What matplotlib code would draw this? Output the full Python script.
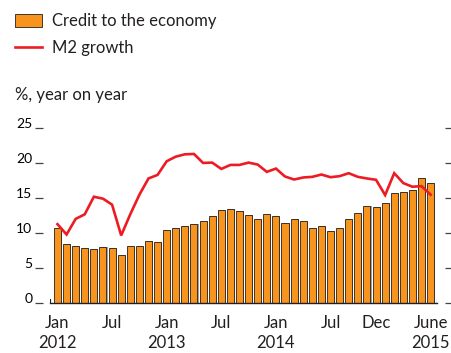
import numpy as np
import matplotlib
matplotlib.use("Agg")
import matplotlib.pyplot as plt
from matplotlib.patches import Patch
from matplotlib.lines import Line2D

plt.rcParams['font.family'] = ['Lato', 'DejaVu Sans']
plt.rcParams['ytick.alignment'] = 'baseline'

# monthly, Jan 2012 .. June 2015
credit = [10.75, 8.35, 8.16, 7.78, 7.74, 7.92, 7.88, 6.84, 8.11, 8.07, 8.87, 8.68,
          10.38, 10.66, 10.94, 11.32, 11.70, 12.36, 13.30, 13.44, 13.11, 12.50, 12.03, 12.64,
          12.36, 11.46, 11.93, 11.65, 10.66, 10.90, 10.28, 10.71, 11.93, 12.83, 13.87, 13.68,
          14.29, 15.61, 15.80, 16.13, 17.74, 17.03]
m2 = [11.23, 9.76, 11.98, 12.64, 15.14, 14.86, 14.01, 9.62, 12.64, 15.42, 17.74, 18.25,
      20.19, 20.85, 21.18, 21.23, 19.95, 20.00, 19.10, 19.67, 19.67, 20.00, 19.72, 18.68,
      19.15, 18.02, 17.59, 17.88, 17.97, 18.30, 17.92, 18.07, 18.49, 17.97, 17.74, 17.55,
      15.38, 18.49, 17.08, 16.56, 16.65, 15.42]
tick_pos = [0, 6, 12, 18, 24, 30, 35, 41]
tick_labels = ['Jan\n2012', 'Jul', 'Jan\n2013', 'Jul', 'Jan\n2014', 'Jul', 'Dec', 'June\n2015']
yticks = [0, 5, 10, 15, 20, 25]

orange = '#F7941D'
red = '#ED1C24'
dark = '#231F20'
fs = 12

x = np.arange(len(credit))

fig = plt.figure(figsize=(4.51, 3.53), dpi=100)
ax = fig.add_axes([50 / 451, 50 / 353, 387 / 451, 175.5 / 353])

# grey shadow on the right of each bar, then the bar itself
ax.bar(x + 0.12, credit, width=0.77, color='#A0A0A0', zorder=1)
ax.bar(x, credit, width=0.77, color=orange, edgecolor=dark, linewidth=0.6, zorder=2)
ax.plot(x, m2, color=red, linewidth=1.9, zorder=3, solid_joinstyle='miter')

ax.set_xlim(-0.82, 41.7)
ax.set_ylim(0, 25)

ax.set_xticks(tick_pos)
ax.set_xticklabels(tick_labels, fontsize=fs, color=dark, linespacing=1.25)
ax.tick_params(axis='x', length=0, pad=9)

ax.set_yticks(yticks)
ax.set_yticklabels([str(v) for v in yticks], fontsize=fs, color=dark)
ax.tick_params(axis='y', direction='out', length=5.8, width=0.9, color='#444444',
               pad=2.0, right=True, labelright=False)
ax.spines['left'].set_position(('outward', 5))
ax.spines['right'].set_position(('outward', 6))
for s in ['left', 'right', 'top']:
    ax.spines[s].set_visible(False)
ax.spines['bottom'].set_color(dark)
ax.spines['bottom'].set_linewidth(1.0)
ax.spines['bottom'].set_zorder(4)
ax.axvline(-0.82, ymax=0.02, color=dark, linewidth=0.8)
ax.axvline(41.7, ymax=0.02, color=dark, linewidth=0.8)

handles = [Patch(facecolor=orange, edgecolor=dark, linewidth=0.6),
           Line2D([], [], color=red, linewidth=1.9)]
fig.legend(handles, ['Credit to the economy', 'M2 growth'], loc='upper left',
           bbox_to_anchor=(15 / 451, 1 - 13 / 353), frameon=False, fontsize=fs,
           borderpad=0, borderaxespad=0,
           handlelength=1.62, handleheight=0.85, handletextpad=0.6, labelspacing=0.65,
           labelcolor=dark)
fig.text(15 / 451, 1 - 95 / 353, '%, year on year', fontsize=fs, color=dark, va='center')

fig.savefig('out.png', dpi=100)
